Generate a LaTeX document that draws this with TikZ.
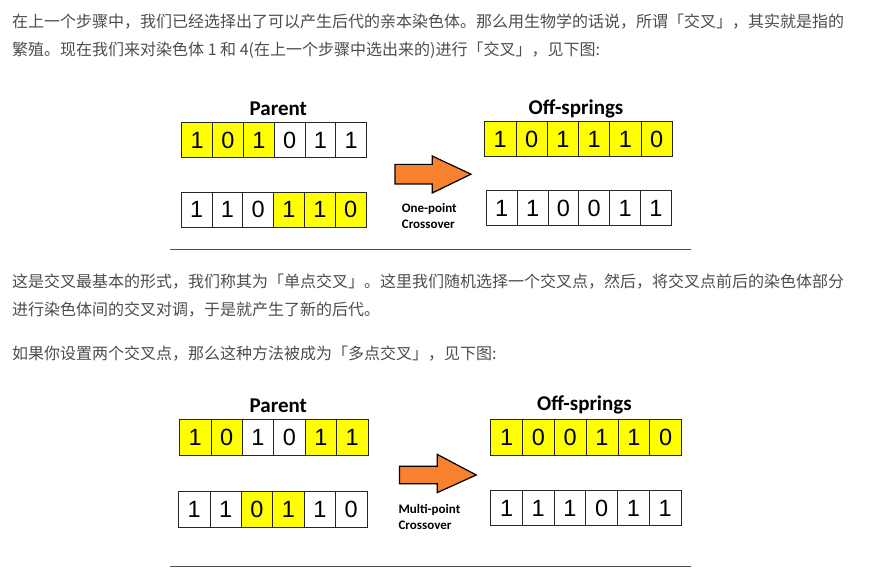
\documentclass[tikz,border=0pt]{standalone}
\usepackage{fontspec}
\setmainfont{Noto Sans CJK SC}
\newfontfamily\digitfont{Liberation Sans}
\newfontfamily\capfont{Carlito}
\usetikzlibrary{positioning, calc}
\definecolor{geneyellow}{HTML}{FFFF00}
\definecolor{arroworange}{HTML}{F7812F}
\definecolor{bodytext}{HTML}{4D4D4D}

\begin{document}
\begin{tikzpicture}[
    x=1pt, y=-1pt,
    para/.style={anchor=west, inner sep=0pt, text=bodytext,
                 font=\fontsize{16}{16}\selectfont},
    cell/.style={draw=black!85, line width=0.8pt, minimum height=35pt,
                 inner sep=0pt, font={\digitfont\fontsize{23.5}{23.5}\selectfont}},
    hl/.style={fill=geneyellow},
    pl/.style={fill=white},
    title/.style={font={\capfont\bfseries\fontsize{21}{21}\selectfont}},
    xlabel/.style={anchor=west, align=left, inner sep=0pt,
                   font={\capfont\bfseries\fontsize{13}{15.5}\selectfont}},
    fatarrow/.style={draw=black, line width=1.2pt, fill=arroworange,
                     line join=miter},
    rule/.style={draw=black!70, line width=0.8pt}
]
\useasboundingbox (0,0) rectangle (876,569);
% ============== text above the first figure ==================
\node[para] (t1) at (12,22) {在上一个步骤中，我们已经选择出了可以产生后代的亲本染色体。那么用生物学的话说，所谓「交叉」，其实就是指的};
\node[para] (t2) at (12,50) {繁殖。现在我们来对染色体 1 和 4(在上一个步骤中选出来的)进行「交叉」，见下图:};
% ============== one-point crossover ==================
\begin{scope}
  \def\cw{30.8}
  \node[title] (par1) at (278.3,108.6) {Parent};
  \node[title] (off1) at (576,108.6) {Off-springs};
  % parent chromosomes
  \foreach \b/\f [count=\i from 0] in {1/hl,0/hl,1/hl,0/pl,1/pl,1/pl}
    \node[cell,\f,minimum width=\cw] (pa\i) at (181.8+\cw/2+\i*\cw,140.2) {\b};
  \foreach \b/\f [count=\i from 0] in {1/pl,1/pl,0/pl,1/hl,1/hl,0/hl}
    \node[cell,\f,minimum width=\cw] (pb\i) at (181.2+\cw/2+\i*\cw,209.8) {\b};
  % children
  \foreach \b [count=\i from 0] in {1,0,1,1,1,0}
    \node[cell,hl,minimum width=31.3] (oa\i) at (484.6+15.65+\i*31.3,139.4) {\b};
  \foreach \b [count=\i from 0] in {1,1,0,0,1,1}
    \node[cell,pl,minimum width=30.85] (ob\i) at (486.3+15.4+\i*30.85,208.4) {\b};
  % arrow
  \coordinate (arr1) at (395,174.2);
  \draw[fatarrow] (arr1) ++(0,-9.8) -- ++(37.2,0) -- ++(0,-8.4) -- ++(38.8,18.2)
    -- ++(-38.8,18.8) -- ++(0,-9) -- ++(-37.2,0) -- cycle;
  \node[xlabel] (lab1) at (401.7,216) {One-point\\Crossover};
  \coordinate (r1a) at (170,249.7);
  \coordinate (r1b) at (691,249.7);
  \draw[rule] (r1a) -- (r1b);
\end{scope}
% ============== text between the figures ==================
\node[para] (t3) at (12,282) {这是交叉最基本的形式，我们称其为「单点交叉」。这里我们随机选择一个交叉点，然后，将交叉点前后的染色体部分};
\node[para] (t4) at (12,310) {进行染色体间的交叉对调，于是就产生了新的后代。};
\node[para] (t5) at (12,354) {如果你设置两个交叉点，那么这种方法被成为「多点交叉」，见下图:};
% ============== multi-point crossover ==================
\begin{scope}
  \def\cw{31.4}
  \node[title] (par2) at (278.3,405.3) {Parent};
  \node[title] (off2) at (584.4,405.3) {Off-springs};
  % parent chromosomes
  \foreach \b/\f [count=\i from 0] in {1/hl,0/hl,1/pl,0/pl,1/hl,1/hl}
    \node[cell,\f,minimum width=\cw,minimum height=35.6] (qa\i) at (179.5+\cw/2+\i*\cw,437.6) {\b};
  \foreach \b/\f [count=\i from 0] in {1/pl,1/pl,0/hl,1/hl,1/pl,0/pl}
    \node[cell,\f,minimum width=\cw,minimum height=35.6] (qb\i) at (178.5+\cw/2+\i*\cw,509.4) {\b};
  % children
  \foreach \b [count=\i from 0] in {1,0,0,1,1,0}
    \node[cell,hl,minimum width=31.8,minimum height=35.6] (ra\i) at (490.7+15.9+\i*31.8,437.6) {\b};
  \foreach \b [count=\i from 0] in {1,1,1,0,1,1}
    \node[cell,pl,minimum width=31.7] (rb\i) at (490.7+15.85+\i*31.7,508) {\b};
  % arrow
  \coordinate (arr2) at (399.4,475);
  \draw[fatarrow] (arr2) ++(0,-8.8) -- ++(37.9,0) -- ++(0,-11.8) -- ++(38.9,20.6)
    -- ++(-38.9,17.6) -- ++(0,-8.8) -- ++(-37.9,0) -- cycle;
  \node[xlabel] (lab2) at (398.4,517) {Multi-point\\Crossover};
  \coordinate (r2a) at (170,566);
  \coordinate (r2b) at (691,566);
  \draw[rule] (r2a) -- (r2b);
\end{scope}
\end{tikzpicture}
\end{document}
